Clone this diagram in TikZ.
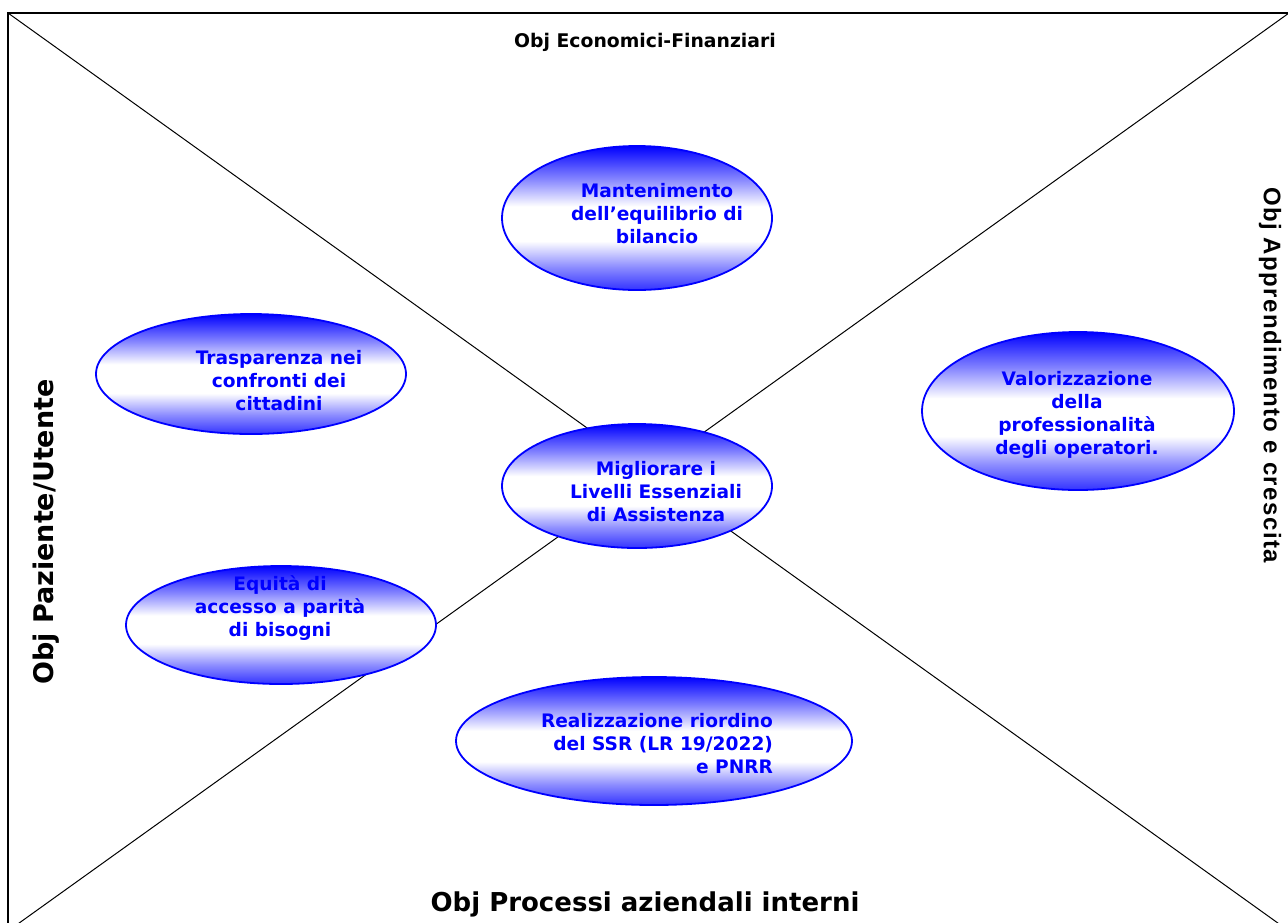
\documentclass[tikz,border=0pt]{standalone}
\usepackage{fontspec}
\setmainfont{DejaVu Sans}
\newfontfamily\arialfont[LetterSpace=6]{Liberation Sans}
\usetikzlibrary{shapes.geometric}

% fill of the ovals: blue at top and bottom, white in the middle
\pgfdeclareverticalshading{ovalfill}{100bp}{color(0bp)=(blue!80); color(25bp)=(blue!80);
  color(33bp)=(blue!45); color(42bp)=(white); color(54bp)=(white);
  color(64bp)=(blue!50); color(75bp)=(blue); color(100bp)=(blue)}

\begin{document}
\begin{tikzpicture}[x=0.5pt,y=-0.5pt,
    oval/.style={ellipse, draw=blue, line width=0.9pt, shading=ovalfill, inner sep=0pt},
    ovaltext/.style={text=blue, align=center, inner sep=0pt,
      font=\bfseries\fontsize{9.3}{11.5}\selectfont},
    side/.style={font=\bfseries\fontsize{9.4}{11}\selectfont}]
  \useasboundingbox (0,0) rectangle (1288,922);
  \clip (0,0) rectangle (1288,922);

  % frame and the two diagonals
  \coordinate (tl) at (8,13);
  \coordinate (tr) at (1289,13);
  \coordinate (br) at (1289,931);
  \coordinate (bl) at (8,931);
  \draw[line width=1pt] (tl) -- (tr) -- (br) -- (bl) -- cycle;
  \draw[line width=0.5pt] (tl) -- (br);
  \draw[line width=0.5pt] (tr) -- (bl);

  % objectives
  \node[oval, minimum width=135pt, minimum height=72pt] (man) at (637,218) {};
  \node[ovaltext] (mantxt) at (657,214) {Mantenimento\\dell’equilibrio di\\bilancio};

  \node[oval, minimum width=155pt, minimum height=60pt] (tra) at (251,374) {};
  \node[ovaltext] (tratxt) at (279,381) {Trasparenza nei\\confronti dei\\cittadini};

  \node[oval, minimum width=135pt, minimum height=62pt] (mig) at (637,486) {};
  \node[ovaltext] (migtxt) at (656,492) {Migliorare i\\Livelli Essenziali\\di Assistenza};

  \node[oval, minimum width=156pt, minimum height=79pt] (val) at (1078,411) {};
  \node[ovaltext] (valtxt) at (1077,415)
    {Valorizzazione\\della\\professionalità\\degli operatori.};

  \node[oval, minimum width=155pt, minimum height=59pt] (equ) at (281,625) {};
  \node[ovaltext] (equtxt) at (280,608) {Equità di\\accesso a parità\\di bisogni};

  \node[oval, minimum width=198pt, minimum height=64pt] (rea) at (654,741) {};
  \node[ovaltext, align=right] (reatxt) at (657,744)
    {Realizzazione riordino\\del SSR (LR 19/2022)\\e PNRR};

  % perspectives
  \node[side] (eco) at (645,42) {Obj Economici-Finanziari};
  \node[side, font=\bfseries\fontsize{13}{15}\selectfont] (pro) at (645,904)
    {Obj Processi aziendali interni};
  \node[side, font=\bfseries\fontsize{13.5}{15}\selectfont, rotate=90] (paz) at (46,532)
    {Obj Paziente/Utente};
  \node[rotate=-90, font=\arialfont\bfseries\fontsize{12}{14}\selectfont] (app)
    at (1270,375) {Obj Apprendimento e crescita};
\end{tikzpicture}
\end{document}
